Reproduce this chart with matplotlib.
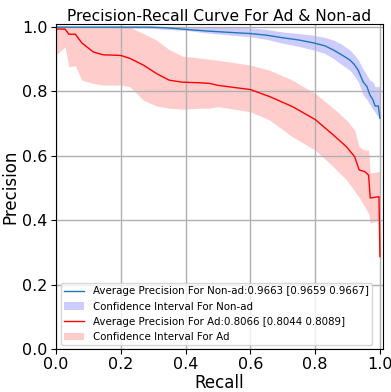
import matplotlib
matplotlib.use("Agg")
import matplotlib.pyplot as plt
import numpy as np

# ---- Non-ad curve ----
nonad_recall = [0.0, 0.10, 0.20, 0.29, 0.34, 0.40, 0.465, 0.53, 0.60, 0.65, 0.70,
                0.75, 0.795, 0.83, 0.856, 0.88, 0.907, 0.92, 0.933, 0.948, 0.96,
                0.969, 0.978, 0.985, 0.995, 1.0]
nonad_prec = [1.0, 1.0, 1.0, 1.0, 0.998, 0.993, 0.988, 0.984, 0.980, 0.975, 0.967,
              0.960, 0.951, 0.942, 0.929, 0.915, 0.898, 0.885, 0.866, 0.830, 0.815,
              0.789, 0.775, 0.755, 0.755, 0.717]
nonad_upper = [1.0, 1.0, 1.0, 1.0, 1.0, 1.0, 1.0, 1.0, 0.998, 0.993, 0.985,
               0.980, 0.975, 0.968, 0.960, 0.948, 0.929, 0.915, 0.898, 0.870, 0.850,
               0.835, 0.830, 0.815, 0.815, 0.815]
nonad_lower = [1.0, 1.0, 0.998, 0.996, 0.993, 0.990, 0.982, 0.976, 0.970, 0.962, 0.950,
               0.940, 0.929, 0.918, 0.903, 0.885, 0.866, 0.850, 0.830, 0.790, 0.775,
               0.760, 0.745, 0.735, 0.720, 0.711]

# ---- Ad curve ----
ad_recall = [0.0, 0.028, 0.04, 0.06, 0.08, 0.115, 0.146, 0.20, 0.228, 0.27, 0.31,
             0.35, 0.39, 0.444, 0.475, 0.50, 0.60, 0.66, 0.73, 0.80, 0.856, 0.897,
             0.922, 0.936, 0.953, 0.965, 0.97, 0.997, 1.0]
ad_prec = [0.994, 0.994, 0.978, 0.978, 0.951, 0.923, 0.914, 0.912, 0.903, 0.882, 0.856,
           0.835, 0.829, 0.827, 0.825, 0.819, 0.806, 0.784, 0.753, 0.713, 0.665, 0.628,
           0.597, 0.556, 0.551, 0.540, 0.469, 0.473, 0.287]
ad_upper = [1.0, 1.0, 1.0, 1.0, 1.0, 1.0, 1.0, 1.0, 1.0, 0.980, 0.960,
            0.930, 0.910, 0.904, 0.900, 0.897, 0.882, 0.866, 0.835, 0.794, 0.748, 0.711,
            0.680, 0.628, 0.618, 0.618, 0.547, 0.551, 0.551]
ad_lower = [0.913, 0.939, 0.877, 0.880, 0.835, 0.825, 0.820, 0.820, 0.815, 0.773, 0.755,
            0.748, 0.745, 0.748, 0.748, 0.753, 0.737, 0.711, 0.659, 0.618, 0.566, 0.525,
            0.490, 0.470, 0.442, 0.420, 0.391, 0.400, 0.400]

nonad_label = "Average Precision For Non-ad:0.9663 [0.9659 0.9667]"
ad_label = "Average Precision For Ad:0.8066 [0.8044 0.8089]"

fig = plt.figure(figsize=(3.91, 3.92), dpi=100)
ax = fig.add_axes([0.143, 0.110, 0.837, 0.829])

ax.plot(nonad_recall, nonad_prec, color="#1f77b4", lw=1, label=nonad_label)
ax.fill_between(nonad_recall, nonad_lower, nonad_upper, color="blue", alpha=0.2,
                lw=0, label="Confidence Interval For Non-ad")
ax.plot(ad_recall, ad_prec, color="red", lw=1, label=ad_label)
ax.fill_between(ad_recall, ad_lower, ad_upper, color="red", alpha=0.2,
                lw=0, label="Confidence Interval For Ad")

ax.set_xlim(0, 1.01)
ax.set_ylim(0, 1.01)
ax.set_xticks(np.arange(0, 1.01, 0.2))
ax.set_yticks(np.arange(0, 1.01, 0.2))
ax.tick_params(labelsize=11.5, pad=2.5)
ax.grid(True, color="#b0b0b0", lw=1)

ax.set_title("Precision-Recall Curve For Ad & Non-ad", fontsize=11.2, pad=2)
ax.set_xlabel("Recall", fontsize=12, labelpad=1)
ax.set_ylabel("Precision", fontsize=12, labelpad=2)
ax.legend(loc="lower left", fontsize=7.4, bbox_to_anchor=(0.015, 0.012),
          borderaxespad=0, borderpad=0.3, handletextpad=0.8)

fig.savefig("out.png", dpi=100)
